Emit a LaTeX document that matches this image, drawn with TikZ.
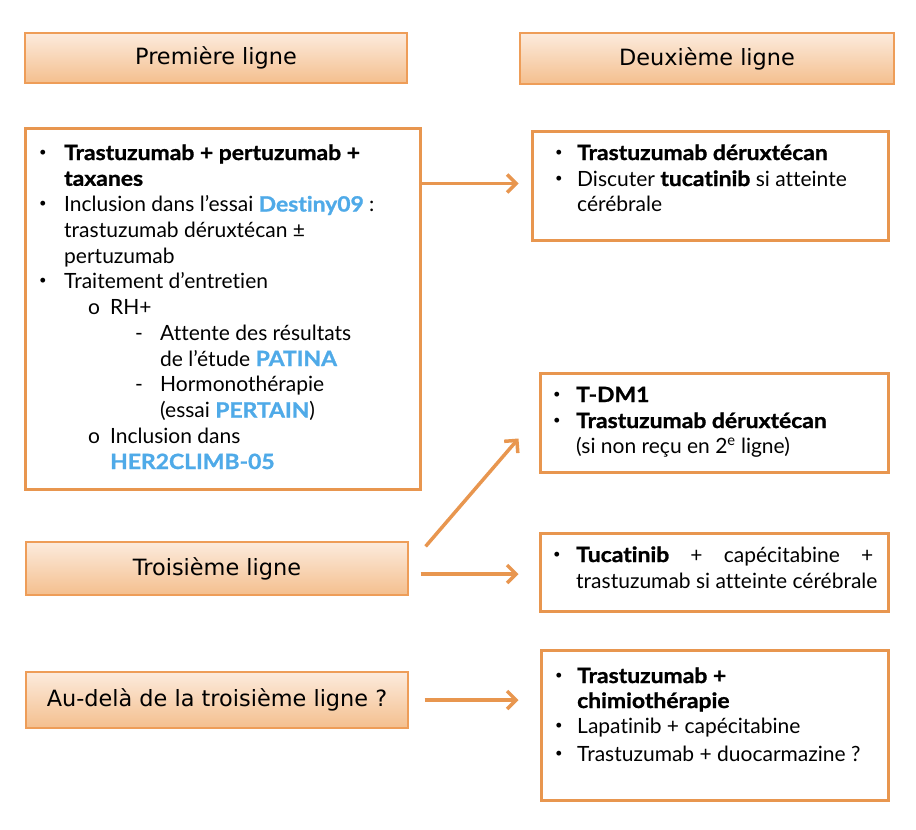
\documentclass[tikz,border=0pt]{standalone}
\usepackage{fontspec}
\setmainfont{Lato}[Ligatures={NoCommon}, BoldFeatures={FakeStretch=1.09, FakeBold=1.2}]
\newfontfamily\hdrfont{DejaVu Sans}
\usetikzlibrary{arrows.meta,calc}
\definecolor{org}{HTML}{E8964F}
\definecolor{hdrtop}{HTML}{FCEBDD}
\definecolor{hdrbot}{HTML}{F4BF8E}
\definecolor{hdrline}{HTML}{EE9D58}
\definecolor{blu}{HTML}{4FAAE8}
\newcommand{\hlb}[1]{\textcolor{blu}{\textbf{#1}}}
\begin{document}
\begin{tikzpicture}[x=1pt,y=-1pt,
 hdr/.style={draw=hdrline, line width=1.2pt, top color=hdrtop, bottom color=hdrbot, font=\hdrfont\fontsize{22.4}{26}\selectfont, inner sep=0},
 box/.style={draw=org, line width=3pt, inner sep=0},
 txt/.style={anchor=base west, inner sep=0, font=\fontsize{21}{25}\selectfont},
 bul/.style={anchor=center, inner sep=0, font=\fontsize{13}{13}\selectfont},
 arr/.style={draw=org, line width=3.5pt, -{Straight Barb[length=9pt,width=18pt]}}]
\useasboundingbox (0,0) rectangle (916,830);

% headers
\node[hdr, minimum width=382, minimum height=50] (h1) at (216,58) {Première ligne};
\node[hdr, minimum width=374, minimum height=51] (h2) at (707,58.5) {Deuxième ligne};
\node[hdr, minimum width=382, minimum height=53] (h3) at (217,568.5) {Troisième ligne};
\node[hdr, minimum width=382, minimum height=56] (h4) at (217,700) {\raisebox{-5pt}{Au-delà de la troisième ligne ?}};

% content boxes
\node[box, minimum width=395, minimum height=361] (b1) at (222.5,308.5) {};
\node[box, minimum width=356, minimum height=109] (b2) at (710,185.5) {};
\node[box, minimum width=348, minimum height=99] (b3) at (714,422.5) {};
\node[box, minimum width=348, minimum height=78] (b4) at (714,572) {};
\node[box, minimum width=347, minimum height=150] (b5) at (714.5,725) {};

% box 1 text
\node[bul] (p1) at (43,153) {•};
\node[txt] (l1) at (64,160) {\textbf{Trastuzumab + pertuzumab +}};
\node[txt] (l2) at (64,185.75) {\textbf{taxanes}};
\node[bul] (p2) at (43,204.5) {•};
\node[txt] (l3) at (64,211.5) {Inclusion dans l’essai \hlb{Destiny09} :};
\node[txt] (l4) at (64,237.25) {trastuzumab déruxtécan ±};
\node[txt] (l5) at (64,263) {pertuzumab};
\node[bul] (p3) at (43,281.75) {•};
\node[txt] (l6) at (64,288.75) {Traitement d’entretien};
\node[txt] (o1) at (88,314.5) {o};
\node[txt] (l7) at (110,314.5) {RH+};
\node[txt] (d1) at (135,340.25) {-};
\node[txt] (l8) at (160,340.25) {Attente des résultats};
\node[txt] (l9) at (160,366) {de l’étude \hlb{PATINA}};
\node[txt] (d2) at (135,391.75) {-};
\node[txt] (l10) at (160,391.75) {Hormonothérapie};
\node[txt] (l11) at (160,417.5) {(essai \hlb{PERTAIN})};
\node[txt] (o2) at (88,443.25) {o};
\node[txt] (l12) at (110,443.25) {Inclusion dans};
\node[txt] (l13) at (110,469) {\hlb{HER2CLIMB-05}};

% box 2 text
\node[bul] (q1) at (559,153) {•};
\node[txt] (m1) at (577,160) {\textbf{Trastuzumab déruxtécan}};
\node[bul] (q2) at (559,179) {•};
\node[txt] (m2) at (577,186) {Discuter \textbf{tucatinib} si atteinte};
\node[txt] (m3) at (577,211) {cérébrale};

% box 3 text
\node[bul] (r1) at (557,395) {•};
\node[txt] (n1) at (576,402) {\textbf{T-DM1}};
\node[bul] (r2) at (557,421) {•};
\node[txt] (n2) at (576,428) {\textbf{Trastuzumab déruxtécan}};
\node[txt] (n3) at (576,453) {(si non reçu en 2\textsuperscript{e} ligne)};

% box 4 text
\node[bul] (s1) at (557,555) {•};
\node[txt] (k1) at (576,562) {\hbox to 297pt{\textbf{Tucatinib}\hfill+\hfill capécitabine\hfill+}};
\node[txt] (k2) at (576,588) {trastuzumab si atteinte cérébrale};

% box 5 text
\node[bul] (u1) at (559,676) {•};
\node[txt] (j1) at (577,683) {\textbf{Trastuzumab +}};
\node[txt] (j2) at (577,708) {\textbf{chimiothérapie}};
\node[bul] (u2) at (559,726) {•};
\node[txt] (j3) at (577,733) {Lapatinib + capécitabine};
\node[bul] (u3) at (559,754) {•};
\node[txt] (j4) at (577,761) {Trastuzumab + duocarmazine ?};

% arrows
\draw[arr] ($(b1.east |- b2.west)+(0,-2)$) -- ($(b2.west)+(-12,-2)$);
\draw[arr] ($(h3.north east)+(17,5)$) -- ($(b3.south west)+(-20,-35)$);
\draw[arr] ($(h3.east |- b4.west)+(12,2)$) -- ($(b4.west)+(-20,2)$);
\draw[arr] ($(h4.east)+(16,0)$) -- ($(b5.west |- h4.east)+(-21,0)$);
\end{tikzpicture}
\end{document}
